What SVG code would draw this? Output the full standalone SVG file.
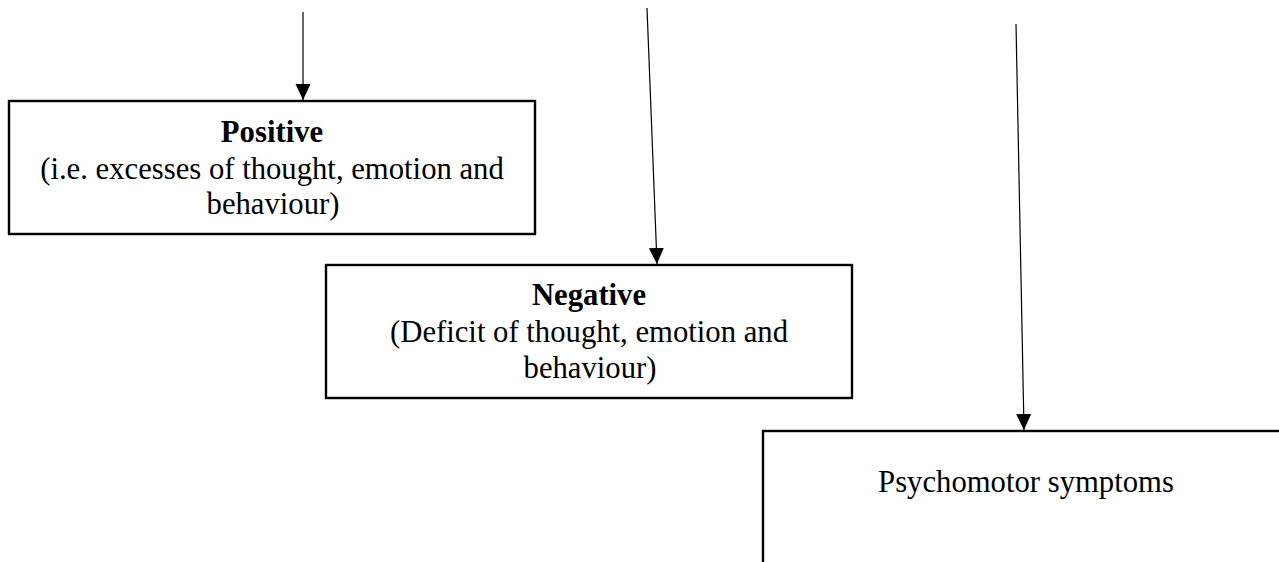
<svg xmlns="http://www.w3.org/2000/svg" width="1279" height="562" viewBox="0 0 1279 562">
<style>
.box{fill:#fff;stroke:#000;stroke-width:2.4}
.t{font-family:"Liberation Serif","Times New Roman",serif;font-size:30.7px;fill:#000;text-anchor:middle}
.b{font-weight:bold}
.c{stroke:#000;stroke-width:1.2;fill:none}
</style>
<defs>
<marker id="ah" markerWidth="16" markerHeight="16" refX="16" refY="7.5" orient="auto" markerUnits="userSpaceOnUse" viewBox="0 0 16 15">
<path d="M0,0 L16,7.5 L0,15 Z" fill="#000"/>
</marker>
</defs>
<rect width="1279" height="562" fill="#fff"/>
<g id="positive">
<rect class="box" x="9" y="101" width="526" height="133"/>
<text class="t b" x="272" y="142">Positive</text>
<text class="t" x="272" y="179">(i.e. excesses of thought, emotion and</text>
<text class="t" x="273" y="214">behaviour)</text>
</g>
<g id="negative">
<rect class="box" x="326" y="265" width="526" height="133"/>
<text class="t b" x="589" y="305">Negative</text>
<text class="t" x="589" y="342">(Deficit of thought, emotion and</text>
<text class="t" x="590" y="378">behaviour)</text>
</g>
<g id="psychomotor">
<rect class="box" x="763" y="431" width="540" height="160"/>
<text class="t" x="1026" y="492">Psychomotor symptoms</text>
</g>
<g id="connectors">
<line class="c" x1="303" y1="12" x2="303" y2="100" marker-end="url(#ah)"/>
<line class="c" x1="647" y1="8" x2="657" y2="264" marker-end="url(#ah)"/>
<line class="c" x1="1016" y1="24" x2="1024" y2="430" marker-end="url(#ah)"/>
</g>
</svg>
